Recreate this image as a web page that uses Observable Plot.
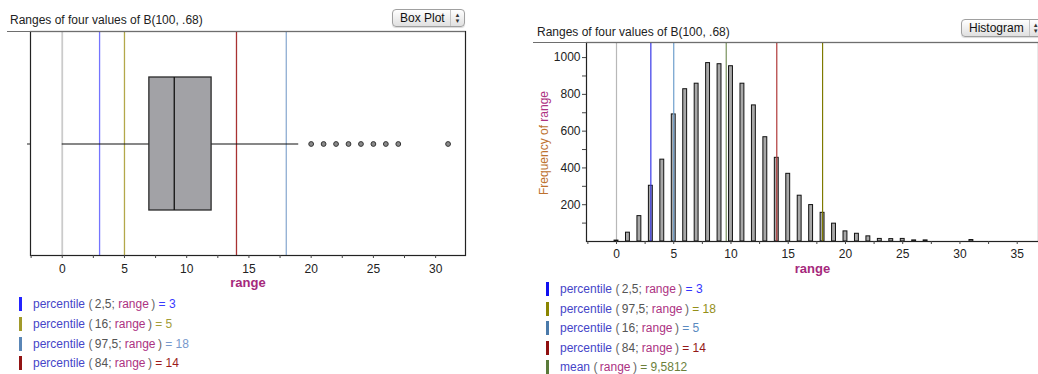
<!DOCTYPE html>
<html><head><meta charset="utf-8">
<script src="https://cdn.jsdelivr.net/npm/d3@7"></script>
<script src="https://cdn.jsdelivr.net/npm/@observablehq/plot@0.6"></script>
<style>
body{margin:0;background:#fff;font-family:"Liberation Sans",Arial,sans-serif;}
#root{position:relative;width:1038px;height:374px;overflow:hidden;background:#fff;}
.abs{position:absolute;}
.title{font-size:12px;color:#222;white-space:nowrap;line-height:14px;}
.hr{height:0;border-top:1px solid #6e6e6e;}
.popup{position:absolute;height:18px;box-sizing:border-box;border:1px solid #a0a0a0;border-radius:4px;
  background:linear-gradient(#ffffff,#ececec 60%,#e0e0e0);font-size:12px;line-height:16px;color:#111;
  display:flex;white-space:nowrap;box-shadow:0 1px 1px rgba(0,0,0,0.15);}
.popup .lab{padding-left:7px;padding-right:5px;}
.popup .arr{border-left:1px solid #c4c4c4;width:16px;display:flex;flex-direction:column;align-items:center;justify-content:center;font-size:6px;line-height:6px;color:#333;}
.leg{position:absolute;font-size:12px;white-space:nowrap;display:flex;align-items:center;height:20px;}
.sw{width:3px;height:14px;margin-right:11px;}
.fn{color:#4545c8;}
.pa{color:#666;}
.ar{color:#555;}
.rg{color:#ad3282;}
.ylab{position:absolute;font-size:12px;white-space:nowrap;transform:translate(-50%,-50%) rotate(-90deg);}
svg{position:absolute;overflow:visible;}
</style>
</head>
<body><div id="root"></div>
<script>
// ---- data ----
const rangeValues = [0,1,2,3,4,5,6,7,8,9,10,11,12,13,14,15,16,17,18,19,20,21,22,23,24,25,26,27,31];
const rangeCounts = [5,48,138,303,445,691,828,858,970,964,953,858,740,567,455,368,249,198,156,97,55,42,28,14,13,14,6,6,8];

const boxQuartiles = [7, 9, 12];      // Q1, median, Q3
const whiskerEnds = [0, 19];           // lower / upper whisker
const outlierValues = [20,21,22,23,24,25,26,27,31];

const zeroLine = [0];

const leftPctLabels = ["2,5", "16", "97,5", "84"];
const leftPctValues = [3, 5, 18, 14];
const rightPctLabels = ["2,5", "97,5", "16", "84"];
const rightPctValues = [3, 18, 5, 14];
const meanValue = 9.5812;
const meanText = "9,5812";

const panelTitle = "Ranges of four values of B(100, .68)";
const axisName = "range";

// ---- styles (kept separate from data) ----
const leftLineColors  = ["#7474ff", "#b3a84a", "#8fadd2", "#a83232"];
const leftSwatchColors = ["#2424ff", "#a19a2a", "#5a86b6", "#921414"];
const leftValueColors = ["#3a3aff", "#a39d3a", "#7799cc", "#9c1c1c"];
const rightLineColors = ["#3838e8", "#7f7a00", "#6f9fcc", "#b03a3a"];
const rightSwatchColors = ["#1010f0", "#8a8500", "#4a7aaa", "#901010"];
const rightValueColors = ["#3333ff", "#948f18", "#5a8ac0", "#931818"];
const meanLineColor = "#5e7c3c", meanSwatchColor = "#5a7a3a", meanValueColor = "#6b7f3a";

const root = document.getElementById("root");
const font = "'Liberation Sans', Arial, sans-serif";

function addHTML(html) { root.insertAdjacentHTML("beforeend", html); }

// ---------- LEFT PANEL (box plot) ----------
const boxData = [{name: axisName, lo: whiskerEnds[0], q1: boxQuartiles[0], med: boxQuartiles[1], q3: boxQuartiles[2], hi: whiskerEnds[1]}];

const left = Plot.plot({
  width: 470, height: 300,
  marginTop: 31, marginLeft: 30, marginRight: 5, marginBottom: 45,
  style: {fontFamily: font, fontSize: "12px", color: "#222", background: "transparent"},
  x: {domain: [-2.55, 32.4]},
  y: {type: "band", domain: [axisName], padding: 0.255},
  marks: [
    Plot.ruleX(zeroLine, {stroke: "#cbcbcb", strokeWidth: 1.8}),
    ...leftPctValues.map((v, i) => Plot.ruleX([v], {stroke: leftLineColors[i], strokeWidth: 1.3})),
    Plot.ruleY(boxData, {x1: "lo", x2: "hi", y: "name", stroke: "#111", strokeWidth: 1.2}),
    Plot.barX(boxData, {x1: "q1", x2: "q3", y: "name", fill: "#a2a2a6", stroke: "#2a2a2a", strokeWidth: 1.3}),
    Plot.tickX(boxData, {x: "med", y: "name", stroke: "#111", strokeWidth: 1.3}),
    Plot.dot(outlierValues, {x: d => d, y: () => axisName, r: 2.4, fill: "#8a8a8a", stroke: "#333", strokeWidth: 1}),
    Plot.frame({stroke: "#222", strokeWidth: 1.2}),
    Plot.axisX({ticks: d3.range(-2.5, 32.5, 2.5), tickFormat: d => d % 5 === 0 ? String(d) : "", tickSize: 3, tickPadding: 6, label: null, stroke: "#444"}),
    Plot.axisY({tickFormat: () => "", tickSize: 3, label: null}),
    Plot.text([axisName], {frameAnchor: "bottom", dy: 31, fill: "#a5297c", fontWeight: "bold", fontSize: 13})
  ]
});
left.style.left = "0px"; left.style.top = "0px";
root.appendChild(left);

// ---------- RIGHT PANEL (histogram) ----------
const histData = rangeValues.map((k, i) => ({k, count: rangeCounts[i]}));

const right = Plot.plot({
  width: 508, height: 281,
  marginTop: 42, marginLeft: 56, marginRight: 0, marginBottom: 40,
  style: {fontFamily: font, fontSize: "12px", color: "#222", background: "transparent"},
  x: {domain: [-2.62, 36.86]},
  y: {domain: [0, 1082]},
  marks: [
    Plot.ruleX(zeroLine, {stroke: "#b8b8b8", strokeWidth: 1.2}),
    Plot.rectY(histData, {x1: d => d.k - 0.17, x2: d => d.k + 0.17, y1: 0, y2: "count", fill: "#a8a8a8", stroke: "#111", strokeWidth: 1}),
    ...rightPctValues.map((v, i) => Plot.ruleX([v], {stroke: rightLineColors[i], strokeWidth: 1.2})),
    Plot.ruleX([meanValue], {stroke: meanLineColor, strokeWidth: 1}),
    Plot.frame({stroke: "#222", strokeWidth: 1.2}),
    Plot.axisX({ticks: d3.range(-2.5, 37, 2.5), tickFormat: d => d % 5 === 0 ? String(d) : "", tickSize: 3, tickPadding: 5, label: null, stroke: "#444"}),
    Plot.axisY({ticks: d3.range(100, 1001, 100), tickFormat: d => d % 200 === 0 ? String(d) : "", tickSize: 4, tickPadding: 2, label: null, stroke: "#444"}),
    Plot.text([axisName], {frameAnchor: "bottom", dy: 31, fill: "#a5297c", fontWeight: "bold", fontSize: 13})
  ]
});
right.style.left = "530px"; right.style.top = "0px";
root.appendChild(right);

// ---------- HTML chrome: titles, rules, popups, legends ----------
addHTML(`<div class="abs title" style="left:10px;top:13px">${panelTitle}</div>`);
addHTML(`<div class="abs title" style="left:537px;top:25px">${panelTitle}</div>`);
addHTML(`<div class="abs hr" style="left:7px;top:30.5px;width:458px"></div>`);
addHTML(`<div class="abs hr" style="left:533px;top:41.5px;width:505px"></div>`);

function popup(x, y, w, label) {
  return `<div class="popup" style="left:${x}px;top:${y}px;width:${w}px"><span class="lab">${label}</span><span style="flex:1"></span><span class="arr"><span>&#9650;</span><span>&#9660;</span></span></div>`;
}
addHTML(popup(392, 9, 73, "Box Plot"));
addHTML(popup(961, 19, 82, "Histogram"));

addHTML(`<div class="ylab" style="left:544px;top:143px"><span style="color:#bd7230">Frequency of </span><span class="rg">${axisName}</span></div>`);

const ts = "\u2009";
function legendRow(x, yc, sw, label, valueText, vcol, fn) {
  return `<div class="leg" style="left:${x}px;top:${yc - 10}px"><span class="sw" style="background:${sw}"></span>` +
    `<span class="fn">${fn}</span>&nbsp;<span class="pa">(</span>${ts}` +
    (label !== null ? `<span class="ar">${label};</span>&nbsp;` : "") +
    `<span class="rg">${axisName}</span>${ts}<span class="pa">)</span>&nbsp;<span style="color:${vcol}">= ${valueText}</span></div>`;
}
const leftRowsY = [304, 323.5, 343.5, 363];
leftPctLabels.forEach((lab, i) => addHTML(legendRow(19, leftRowsY[i], leftSwatchColors[i], lab, leftPctValues[i], leftValueColors[i], "percentile")));
const rightRowsY = [289.3, 309, 328.3, 347.7, 366.7];
rightPctLabels.forEach((lab, i) => addHTML(legendRow(546, rightRowsY[i], rightSwatchColors[i], lab, rightPctValues[i], rightValueColors[i], "percentile")));
addHTML(legendRow(546, rightRowsY[4], meanSwatchColor, null, meanText, meanValueColor, "mean"));
</script>
</body></html>
